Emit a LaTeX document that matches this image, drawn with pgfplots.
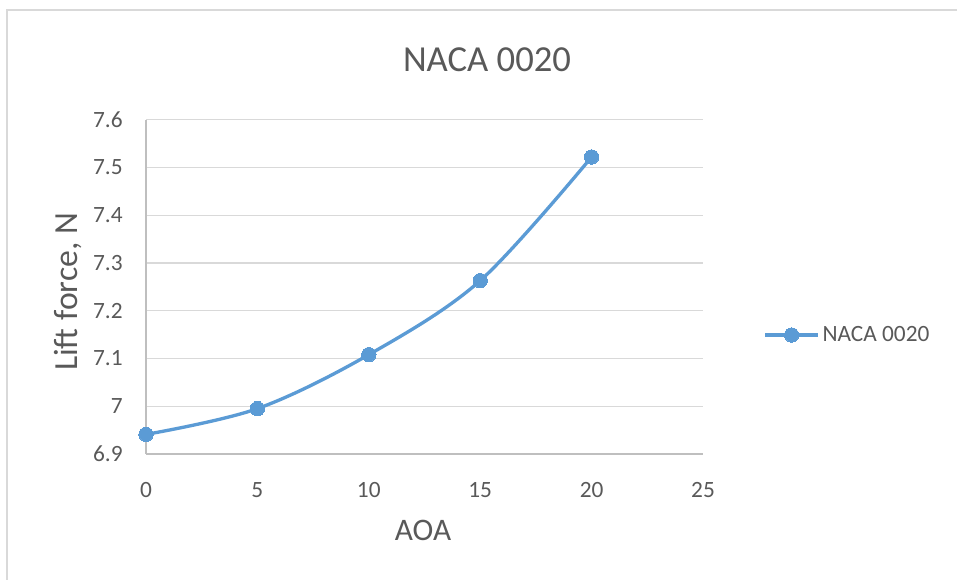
\documentclass[border=0pt]{standalone}
\usepackage{pgfplots}
\pgfplotsset{compat=1.18}
\usepackage{fontspec}
\setmainfont{Carlito}

\definecolor{seriesblue}{HTML}{5B9BD5}
\definecolor{gridgray}{HTML}{D9D9D9}
\definecolor{axisgray}{HTML}{BFBFBF}
\definecolor{textgray}{HTML}{595959}

\begin{document}
\begin{tikzpicture}[x=0.75pt,y=0.75pt]
  \useasboundingbox (0,0) rectangle (957,580);
  % chart frame
  \draw[gridgray,line width=1pt] (7,-10) -- (7,570) -- (970,570);

  \begin{axis}[
    at={(109.5pt,94.5pt)}, anchor=south west,
    scale only axis,
    width=417.75pt, height=250.7pt,
    xmin=0, xmax=25, ymin=6.9, ymax=7.6,
    xtick={0,5,...,25},
    ytick={6.9,7.0,...,7.6},
    yticklabels={6.9,7,7.1,7.2,7.3,7.4,7.5,7.6},
    axis x line*=bottom,
    axis y line*=left,
    axis line style={axisgray,line width=1pt,-},
    ymajorgrids,
    grid style={gridgray,line width=1pt},
    major tick length=0pt,
    tick style={draw=none},
    /pgf/number format/assume math mode=true,
    ticklabel style={font=\fontsize{17.5}{20}\selectfont,text=textgray},
    xticklabel style={yshift=-18pt},
    yticklabel style={xshift=-14pt},
    clip=false,
    legend style={at={(1.108,0.356)}, anchor=west, draw=none, fill=none,
      font=\fontsize{17.5}{20}\selectfont, text=textgray,
      inner xsep=0pt, inner ysep=0pt},
    legend cell align=left,
    legend image code/.code={%
      \draw[mark repeat=2,mark phase=2]
        plot coordinates {(0cm,0cm) (0.7cm,0cm) (1.4cm,0cm)};},
  ]
    \addplot[seriesblue, line width=2.5pt, smooth, tension=0.55,
      mark=*, mark size=5.4pt, mark options={fill=seriesblue,draw=seriesblue,line width=0pt}]
      coordinates {
        (0,6.941) (5,6.995) (10,7.108) (15,7.263) (20,7.522)
      };
    \addlegendentry{NACA 0020}
  \end{axis}

  % titles
  \node[text=textgray,font=\fontsize{27.5}{30}\selectfont] at (487,520) {NACA 0020};
  \node[text=textgray,font=\fontsize{23.5}{26}\selectfont] at (423,50) {AOA};
  \node[text=textgray,font=\fontsize{25.3}{28}\selectfont,rotate=90] at (68,288) {Lift force, N};
\end{tikzpicture}
\end{document}
